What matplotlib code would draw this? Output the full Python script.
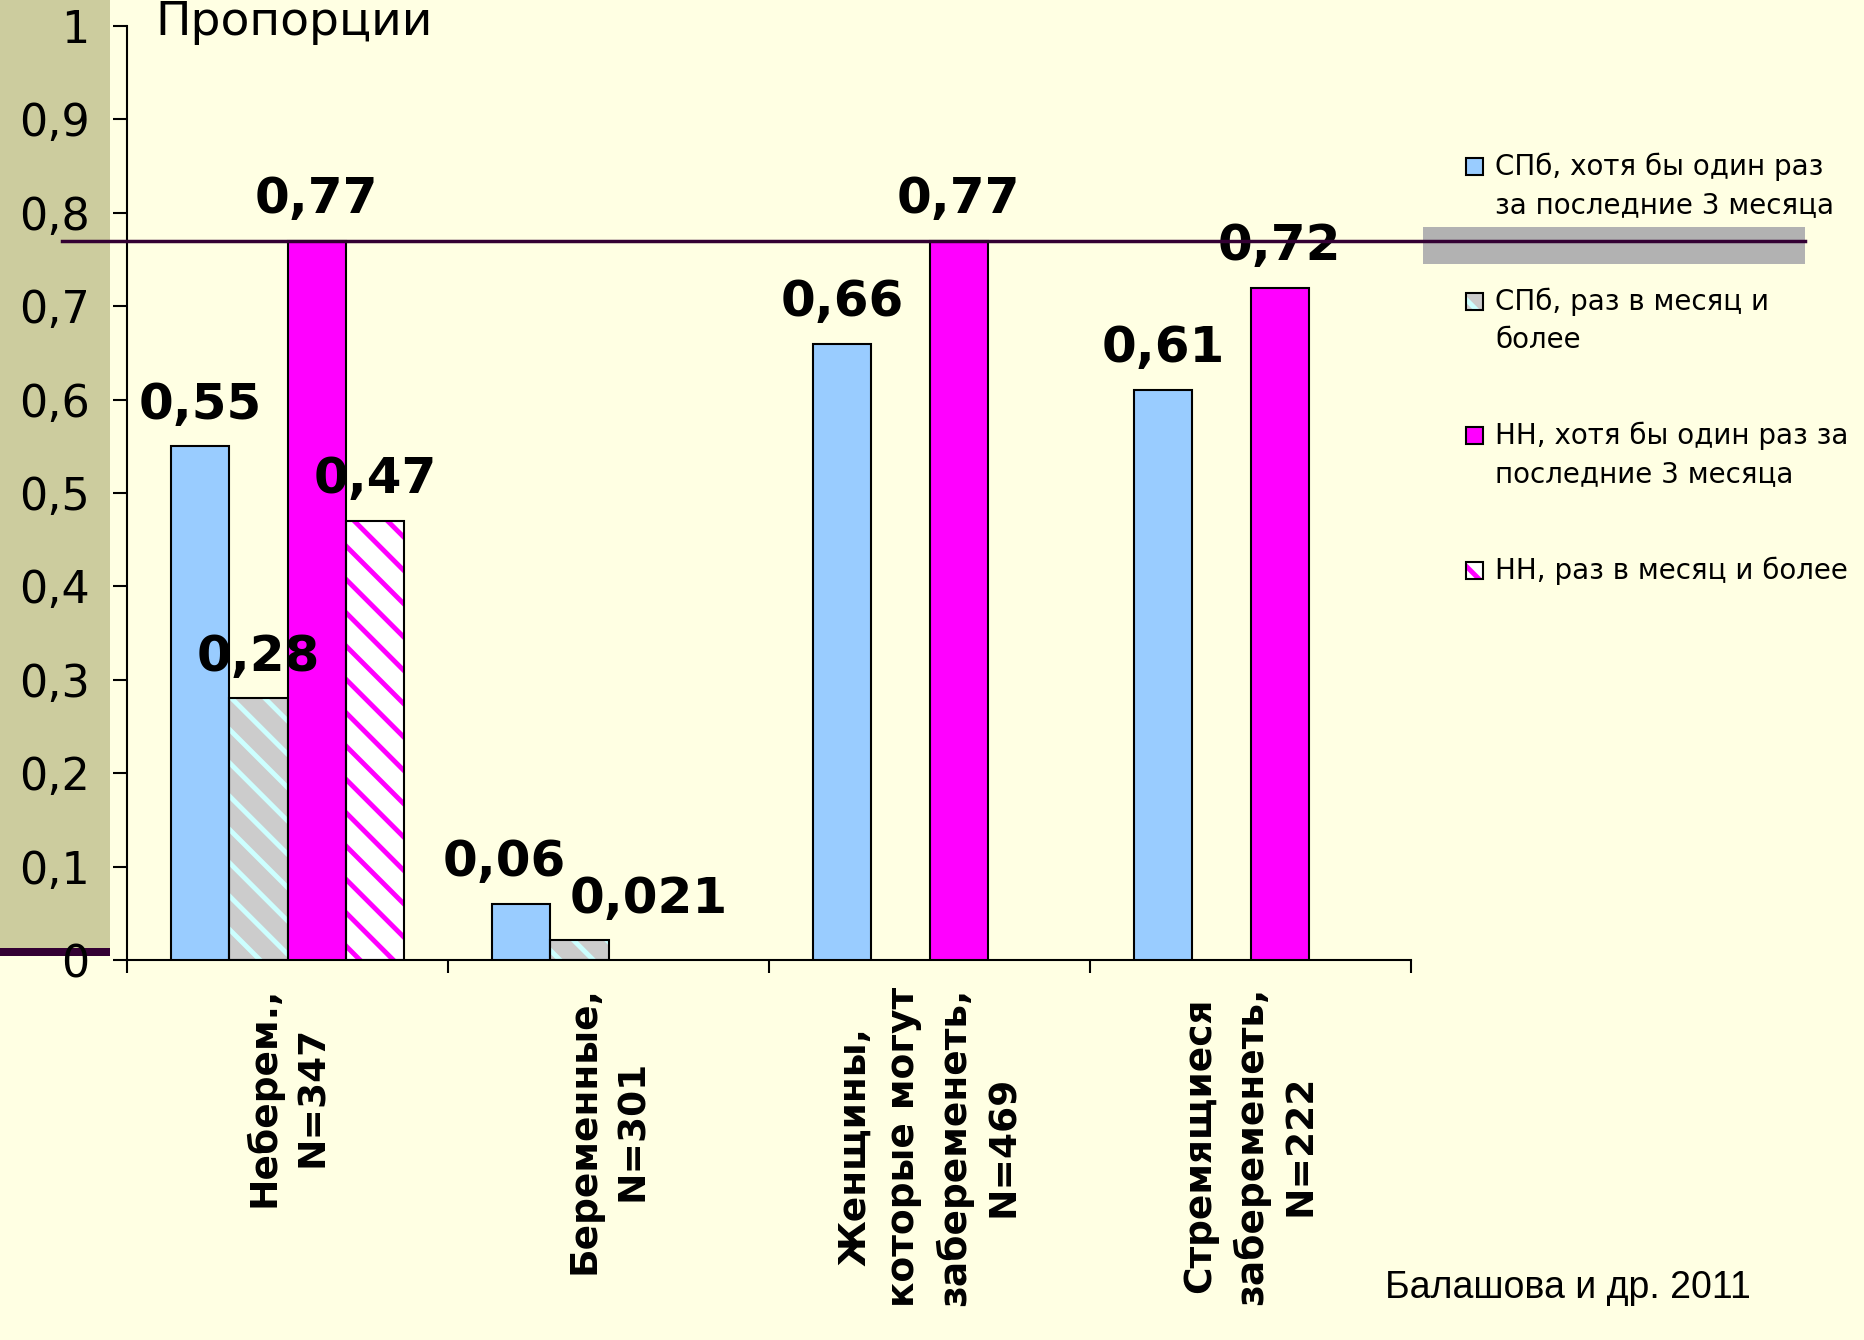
import numpy as np
import matplotlib
matplotlib.use('Agg')
import matplotlib.pyplot as plt
import matplotlib.transforms as mtransforms
from matplotlib.patches import Rectangle
from matplotlib.lines import Line2D

# Values
categories = ['Неберем.,\nN=347', 'Беременные,\nN=301',
              'Женщины,\nкоторые могут\nзабеременеть,\nN=469',
              'Стремящиеся\nзабеременеть,\nN=222']
spb_3m = [0.55, 0.06, 0.66, 0.61]
spb_month = [0.28, 0.021, np.nan, np.nan]
nn_3m = [0.77, np.nan, 0.77, 0.72]
nn_month = [0.47, np.nan, np.nan, np.nan]
series_names = ['СПб, хотя бы один раз\nза последние 3 месяца',
                'СПб, раз в месяц и\nболее',
                'НН, хотя бы один раз за\nпоследние 3 месяца',
                'НН, раз в месяц и более']
yticks = [0, 0.1, 0.2, 0.3, 0.4, 0.5, 0.6, 0.7, 0.8, 0.9, 1]
yticklabels = ['0', '0,1', '0,2', '0,3', '0,4', '0,5', '0,6', '0,7', '0,8', '0,9', '1']
ref_level = 0.77
source = 'Балашова и др. 2011'

BG = '#FFFFE3'
plt.rcParams['font.family'] = ['DejaVu Sans']
plt.rcParams['hatch.linewidth'] = 3.5

W, H = 1864, 1340
fig = plt.figure(figsize=(W / 100, H / 100), dpi=100, facecolor=BG)

# slide decoration: olive strip on the left with a dark bar at its foot
fig.add_artist(Rectangle((0, 1 - 950 / H), 110 / W, 950 / H, transform=fig.transFigure,
                         facecolor='#CCCC9E', edgecolor='none', zorder=0))
fig.add_artist(Rectangle((0, 1 - 956 / H), 110 / W, 8 / H, transform=fig.transFigure,
                         facecolor='#330033', edgecolor='none', zorder=0))
fig.add_artist(Rectangle((1423 / W, 1 - 264 / H), 382 / W, 37 / H, transform=fig.transFigure,
                         facecolor='#B2B2B2', edgecolor='none', zorder=0))

ax = fig.add_axes([127 / W, 1 - 960 / H, (1411 - 127) / W, (960 - 26) / H])
ax.set_facecolor('none')

w = 1 / 5.5
x = np.arange(len(categories))
styles = [
    dict(face='#99CCFF', hatch=None, hcol=None),
    dict(face='#CCCCCC', hatch='\\', hcol='#CCFFFF'),
    dict(face='#FF00FF', hatch=None, hcol=None),
    dict(face='#FFFFFF', hatch='\\', hcol='#FF00FF'),
]
all_series = [spb_3m, spb_month, nn_3m, nn_month]
label_nudge = {(1, 0): -17, (1, 1): 69}  # px, as placed on the slide

for i, (vals, st) in enumerate(zip(all_series, styles)):
    xs = x + (i - 1.5) * w
    vals = np.array(vals, dtype=float)
    ok = ~np.isnan(vals)
    if st['hatch']:
        ax.bar(xs[ok], vals[ok], w, color=st['face'], edgecolor=st['hcol'],
               hatch=st['hatch'], linewidth=0, zorder=2)
        ax.bar(xs[ok], vals[ok], w, fill=False, edgecolor='black', linewidth=1.5, zorder=3)
    else:
        ax.bar(xs[ok], vals[ok], w, color=st['face'], edgecolor='black', linewidth=1.5, zorder=3)
    for j in np.where(ok)[0]:
        dx = label_nudge.get((j, i), 0) * 0.72
        ax.annotate(str(vals[j]).replace('.', ','), (xs[j], vals[j]),
                    xytext=(dx, 20), textcoords='offset points',
                    ha='center', va='baseline', fontsize=36, fontweight='bold', zorder=5)

ax.set_xlim(-0.5, len(categories) - 0.5)
ax.set_ylim(0, 1)
ax.set_yticks(yticks)
ax.set_yticklabels(yticklabels)
ax.set_xticks(np.arange(len(categories) + 1) - 0.5)
ax.set_xticklabels([])
ax.tick_params(axis='y', direction='out', length=10, width=1.5, pad=17, labelsize=32)
ax.tick_params(axis='x', direction='out', length=9, width=1.5)
for s in ['top', 'right']:
    ax.spines[s].set_visible(False)
for s in ['left', 'bottom']:
    ax.spines[s].set_linewidth(1.5)

# category labels under the axis
trans = mtransforms.blended_transform_factory(ax.transData, ax.transAxes)
for xi, cat in zip(x, categories):
    ax.annotate(cat, (xi, 0), xycoords=trans, xytext=(0, -19), textcoords='offset points',
                rotation=90, ha='center', va='top', multialignment='center',
                fontsize=27, fontweight='bold', linespacing=1.45, annotation_clip=False)

# reference line at 0,77 running across the slide
ltrans = mtransforms.blended_transform_factory(fig.transFigure, ax.transData)
fig.add_artist(Line2D([62 / W, 1805 / W], [ref_level, ref_level], transform=ltrans,
                      color='#330033', linewidth=2.5, zorder=4))

fig.text(155 / W, 1 - 35 / H, 'Пропорции', fontsize=34, va='baseline', ha='left')

# legend
leg_y = [166, 301, 435, 570]
for (yy, name, st) in zip(leg_y, series_names, styles):
    fig.add_artist(Rectangle((1466 / W, 1 - (yy + 9) / H), 17 / W, 17 / H,
                             transform=fig.transFigure, facecolor=st['face'],
                             edgecolor=st['hcol'] if st['hatch'] else 'black',
                             hatch=st['hatch'], linewidth=0 if st['hatch'] else 1.5))
    if st['hatch']:
        fig.add_artist(Rectangle((1466 / W, 1 - (yy + 9) / H), 17 / W, 17 / H,
                                 transform=fig.transFigure, fill=False,
                                 edgecolor='black', linewidth=1.5))
    fig.text(1495 / W, 1 - (yy - 13) / H, name, fontsize=20, va='top', ha='left',
             linespacing=1.45)

fig.text(1385 / W, 1 - 1288 / H, source, fontsize=27, va='center', ha='left',
         family=['Liberation Sans'])

fig.savefig('out.png', dpi=100, facecolor=BG)
